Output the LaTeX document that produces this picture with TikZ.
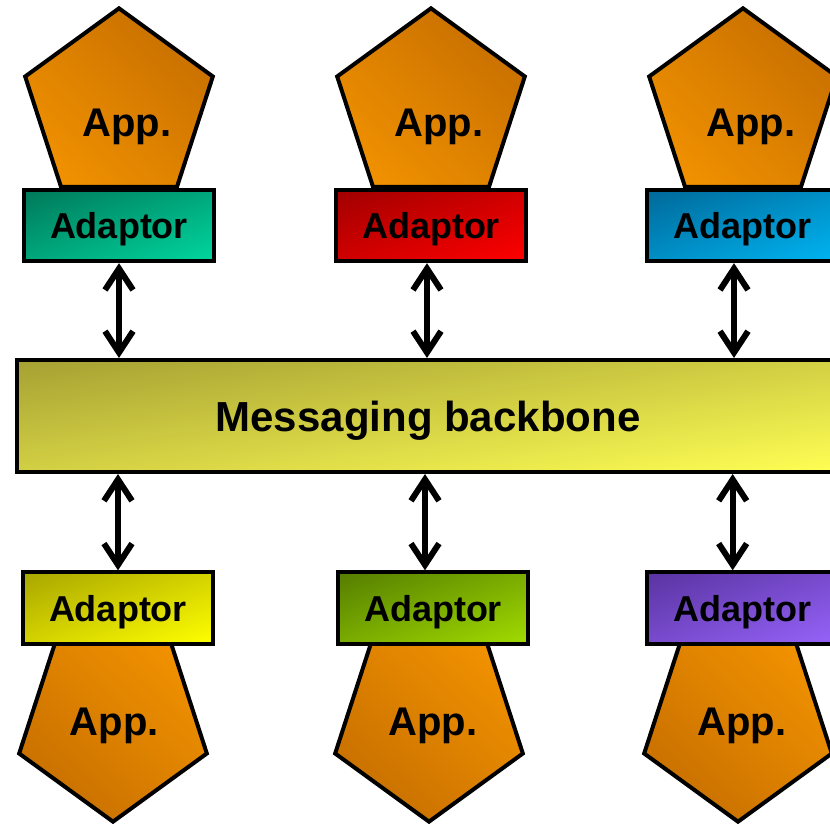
\documentclass[tikz,border=0pt]{standalone}
\usepackage{fontspec}
\setmainfont{Liberation Sans}
\usetikzlibrary{shapes.geometric,arrows.meta}
% diagonal shadings: #2 gives t from x y, #3 start colour, #4 end colour (r g b)
\newcommand\diagshade[4]{\pgfdeclarefunctionalshading{#1}{\pgfpoint{0bp}{0bp}}{\pgfpoint{100bp}{100bp}}{}{#2 \mixrgb#3#4}}
\def\mixrgb#1#2#3#4#5#6{dup #4 #1 sub mul #1 add exch dup #5 #2 sub mul #2 add exch #6 #3 sub mul #3 add}
\def\tlbr{sub 50 add 100 div}
\def\trbl{add neg 150 add 100 div}
\diagshade{appup}{\trbl}{{0.75}{0.41}{0.0}}{{0.97}{0.59}{0.0}}
\diagshade{appdn}{\trbl}{{0.97}{0.59}{0.0}}{{0.75}{0.41}{0.0}}
\diagshade{teal}{\tlbr}{{0.0}{0.47}{0.35}}{{0.0}{0.84}{0.62}}
\diagshade{red}{\tlbr}{{0.63}{0.0}{0.0}}{{1.0}{0.0}{0.0}}
\diagshade{blue}{\tlbr}{{0.0}{0.41}{0.60}}{{0.0}{0.71}{0.95}}
\diagshade{yellow}{\tlbr}{{0.66}{0.65}{0.0}}{{1.0}{1.0}{0.0}}
\diagshade{green}{\tlbr}{{0.33}{0.49}{0.0}}{{0.63}{0.86}{0.0}}
\diagshade{purple}{\tlbr}{{0.35}{0.20}{0.63}}{{0.59}{0.39}{0.98}}
\diagshade{bone}{\tlbr}{{0.65}{0.63}{0.20}}{{1.0}{1.0}{0.33}}
\begin{document}
\begin{tikzpicture}[>={Straight Barb[length=16pt,width=21pt]},x=0.75pt,y=0.75pt,
app/.style={regular polygon,regular polygon sides=5,draw,line width=3pt,inner sep=0pt,minimum size=148pt,shade,shading=appup},
appdown/.style={app,shape border rotate=180,shading=appdn},
apptext/.style={font=\bfseries\fontsize{30}{32}\selectfont},
adaptor/.style={draw,line width=3pt,minimum width=142.5pt,minimum height=53.5pt,inner sep=0pt,text depth=0pt,font=\bfseries\fontsize{27}{29}\selectfont,shade},
link/.style={<->,line width=4.5pt}]
\useasboundingbox (0,0) rectangle (830,825);
\clip (0,0) rectangle (830,825);
% applications
\node[app] (app1) at (119,718) {};
\node[app] (app2) at (431,718) {};
\node[app] (app3) at (743,718) {};
\node[appdown] (app4) at (113,102) {};
\node[appdown] (app5) at (429,102) {};
\node[appdown] (app6) at (738,102) {};
\node[apptext] (txt1) at ([xshift=6pt,yshift=-15pt]app1.center) {App.};
\node[apptext] (txt2) at ([xshift=6pt,yshift=-15pt]app2.center) {App.};
\node[apptext] (txt3) at ([xshift=6pt,yshift=-15pt]app3.center) {App.};
\node[apptext] (txt4) at ([xshift=1pt,yshift=-2pt]app4.center) {App.};
\node[apptext] (txt5) at ([xshift=3pt,yshift=-2pt]app5.center) {App.};
\node[apptext] (txt6) at ([xshift=3pt,yshift=-2pt]app6.center) {App.};
% adaptors
\node[adaptor,shading=teal] (ad1) at (119,599.5) {Adaptor};
\node[adaptor,shading=red] (ad2) at (431,599.5) {Adaptor};
\node[adaptor,shading=blue] (ad3) at (742,599.5) {Adaptor};
\node[adaptor,shading=yellow] (ad4) at (118,217) {Adaptor};
\node[adaptor,shading=green] (ad5) at (433,217) {Adaptor};
\node[adaptor,shading=purple] (ad6) at (742,217) {Adaptor};
% backbone
\node[draw,line width=3pt,minimum width=616.5pt,minimum height=84pt,shade,shading=bone,text depth=0pt,font=\bfseries\fontsize{31.5}{34}\selectfont] (bone) at (428,409) {Messaging backbone};
% links
\draw[link] (ad1.south) -- (ad1.south |- bone.north);
\draw[link] ([xshift=-3pt]ad2.south) -- ([xshift=-3pt]ad2.south |- bone.north);
\draw[link] ([xshift=-6pt]ad3.south) -- ([xshift=-6pt]ad3.south |- bone.north);
\draw[link] (ad4.north) -- (ad4.north |- bone.south);
\draw[link] ([xshift=-6pt]ad5.north) -- ([xshift=-6pt]ad5.north |- bone.south);
\draw[link] ([xshift=-7pt]ad6.north) -- ([xshift=-7pt]ad6.north |- bone.south);
\end{tikzpicture}
\end{document}
